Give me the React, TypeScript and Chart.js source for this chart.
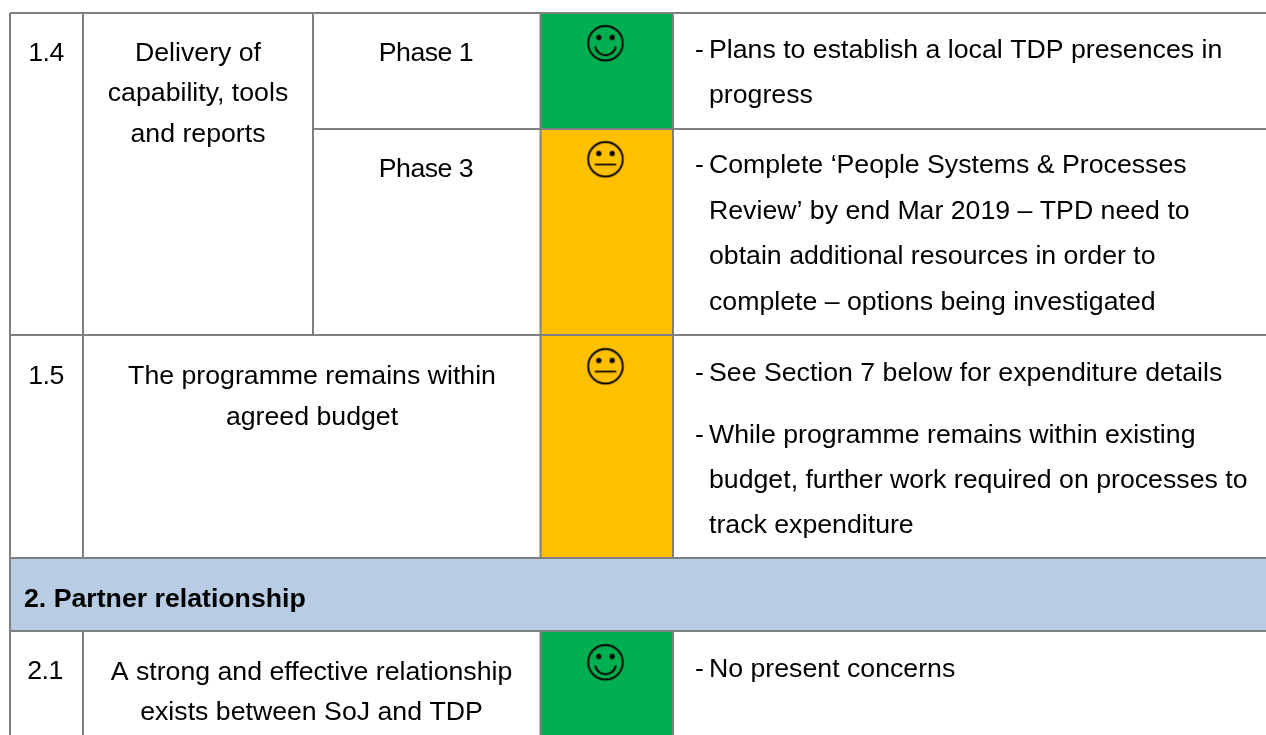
import React, { useEffect, useRef } from "react";
import { Chart, registerables } from "chart.js";

Chart.register(...registerables);

// ---- table content ----
const rowIds = ["1.4", "1.5", "2.1"];
const measureRow14 = ["Delivery of", "capability, tools", "and reports"];
const phases = ["Phase 1", "Phase 3"];
const measureRow15 = ["The programme remains within", "agreed budget"];
const measureRow21 = ["A strong and effective relationship", "exists between SoJ and TDP"];
const sectionTitle = "2. Partner relationship";
const notesPhase1 = ["Plans to establish a local TDP presences in", "progress"];
const notesPhase3 = [
  "Complete ‘People Systems & Processes",
  "Review’ by end Mar 2019 – TPD need to",
  "obtain additional resources in order to",
  "complete – options being investigated",
];
const notesBudget1 = ["See Section 7 below for expenditure details"];
const notesBudget2 = [
  "While programme remains within existing",
  "budget, further work required on processes to",
  "track expenditure",
];
const notesPartner = ["No present concerns"];
const ratings = ["good", "neutral", "neutral", "good"];

// ---- grid (in axis units) ----
const colEdges = [10, 83, 313, 540.5, 673, 1266];
const rowEdges = [13, 129, 335, 558, 631, 735];

const GREY = "#808080";
const ratingColor: Record<string, string> = { good: "#00B050", neutral: "#FFC000" };
const FONT = '"Liberation Sans", Arial, sans-serif';
const FONT_SIZE = 26.7;

function faceCanvas(kind: string) {
  const c = document.createElement("canvas");
  c.width = 40;
  c.height = 40;
  const g = c.getContext("2d")!;
  g.translate(20, 20);
  g.strokeStyle = "#000";
  g.fillStyle = "#000";
  g.lineWidth = 1.9;
  g.beginPath();
  g.arc(0, 0, 17.3, 0, Math.PI * 2);
  g.stroke();
  for (const dx of [-6.7, 6.7]) {
    g.beginPath();
    g.arc(dx, -5.8, 2.6, 0, Math.PI * 2);
    g.fill();
  }
  g.beginPath();
  if (kind === "good") {
    g.moveTo(-10.3, 3.2);
    g.bezierCurveTo(-8, 15, 8, 15, 10.3, 3.2);
    g.lineWidth = 2;
  } else {
    g.moveTo(-10.7, 5.3);
    g.lineTo(10.7, 5.3);
    g.lineWidth = 1.7;
  }
  g.stroke();
  return c;
}

type T = { s: string; x: number; y: number; align?: CanvasTextAlign; bold?: boolean; tight?: boolean };

const colCenter = (i: number) => (colEdges[i] + colEdges[i + 1]) / 2;

const NOTE_X = 709;
const DASH_X = 695;
const placeLines = (lines: string[], x: number, baselines: number[], align: CanvasTextAlign = "center"): T[] =>
  lines.map((s, i) => ({ s, x, y: baselines[i], align }));
const placeNote = (lines: string[], baselines: number[]): T[] => [
  { s: "-", x: DASH_X, y: baselines[0], align: "left" },
  ...placeLines(lines, NOTE_X, baselines, "left"),
];

const texts: T[] = [
  { s: rowIds[0], x: 46, y: 61, tight: true },
  { s: rowIds[1], x: 46, y: 384, tight: true },
  { s: rowIds[2], x: 45, y: 679, tight: true },
  ...placeLines(measureRow14, 198, [61, 101, 142]),
  { s: phases[0], x: 426, y: 61, tight: true },
  { s: phases[1], x: 426, y: 177, tight: true },
  ...placeLines(measureRow15, 312, [384, 424.5]),
  ...placeLines(measureRow21, 311.5, [680, 720]),
  { s: sectionTitle, x: 24, y: 607, align: "left", bold: true },
  ...placeNote(notesPhase1, [57.5, 102.5]),
  ...placeNote(notesPhase3, [173, 219, 264, 310]),
  ...placeNote(notesBudget1, [381]),
  ...placeNote(notesBudget2, [442.5, 487.5, 532.5]),
  ...placeNote(notesPartner, [677]),
];

const seg = (x1: number, y1: number, x2: number, y2: number) => ({
  type: "scatter" as const,
  data: [{ x: x1, y: y1 }, { x: x2, y: y2 }],
  showLine: true,
  borderColor: GREY,
  borderWidth: 2,
  pointRadius: 0,
  order: 1,
});

const textPlugin = {
  id: "tableText",
  afterDatasetsDraw(chart: any) {
    const { ctx, scales } = chart;
    ctx.save();
    ctx.fillStyle = "#000";
    ctx.textBaseline = "alphabetic";
    for (const t of texts) {
      ctx.font = `${t.bold ? "bold " : ""}${FONT_SIZE}px ${FONT}`;
      ctx.letterSpacing = t.tight ? "-0.5px" : "0px";
      ctx.textAlign = t.align ?? "center";
      ctx.fillText(t.s, scales.x.getPixelForValue(t.x), scales.y.getPixelForValue(t.y));
    }
    ctx.restore();
  },
};

export default function App() {
  const ref = useRef<HTMLCanvasElement>(null);
  useEffect(() => {
    const R = rowEdges;
    const C = colEdges;
    const cells = [
      [R[0], R[1]],
      [R[1], R[2]],
      [R[2], R[3]],
      [R[4], R[5]],
    ];
    const faceY = [43.2, 159.3, 366.3, 662.3];
    const chart = new Chart(ref.current!, {
      type: "bar",
      data: {
        datasets: [
          {
            type: "scatter",
            label: "good",
            data: ratings.map((r, i) => ({ r, x: 605.5, y: faceY[i] })).filter((d) => d.r === "good"),
            pointStyle: faceCanvas("good"),
            pointRadius: 20,
            order: 0,
          },
          {
            type: "scatter",
            label: "neutral",
            data: ratings.map((r, i) => ({ r, x: 605.5, y: faceY[i] })).filter((d) => d.r === "neutral"),
            pointStyle: faceCanvas("neutral"),
            pointRadius: 20,
            order: 0,
          },
          // horizontal rules
          seg(C[0], R[0], C[5], R[0]),
          seg(C[2], R[1], C[5], R[1]),
          seg(C[0], R[2], C[5], R[2]),
          seg(C[0], R[3], C[5], R[3]),
          seg(C[0], R[4], C[5], R[4]),
          // vertical rules
          seg(C[0], R[0], C[0], R[5]),
          seg(C[1], R[0], C[1], R[3]),
          seg(C[1], R[4], C[1], R[5]),
          seg(C[2], R[0], C[2], R[2]),
          seg(C[3], R[0], C[3], R[3]),
          seg(C[3], R[4], C[3], R[5]),
          seg(C[4], R[0], C[4], R[3]),
          seg(C[4], R[4], C[4], R[5]),
          {
            type: "bar",
            label: "rating",
            data: cells.map((c) => ({ x: colCenter(3), y: c })),
            backgroundColor: ratings.map((r) => ratingColor[r]),
            barThickness: C[4] - C[3],
            borderSkipped: false,
            grouped: false,
            order: 2,
          },
          {
            type: "bar",
            label: "section",
            data: [{ x: (C[0] + C[5]) / 2, y: [R[3], R[4]] }],
            backgroundColor: "#B8CCE4",
            barThickness: C[5] - C[0],
            grouped: false,
            order: 2,
          },
        ] as any,
      },
      plugins: [textPlugin],
      options: {
        animation: false,
        responsive: false,
        events: [],
        layout: { padding: 0, autoPadding: false },
        plugins: { legend: { display: false }, tooltip: { enabled: false } },
        scales: {
          x: { type: "linear", min: 0, max: 1266, display: false, offset: false },
          y: { type: "linear", min: 0, max: 735, reverse: true, display: false },
        },
      },
    } as any);
    return () => chart.destroy();
  }, []);
  return (
    <div style={{ position: "absolute", left: 0, top: 0, width: 1266, height: 735, background: "#fff" }}>
      <canvas ref={ref} width={1266} height={735} style={{ display: "block" }} />
    </div>
  );
}
